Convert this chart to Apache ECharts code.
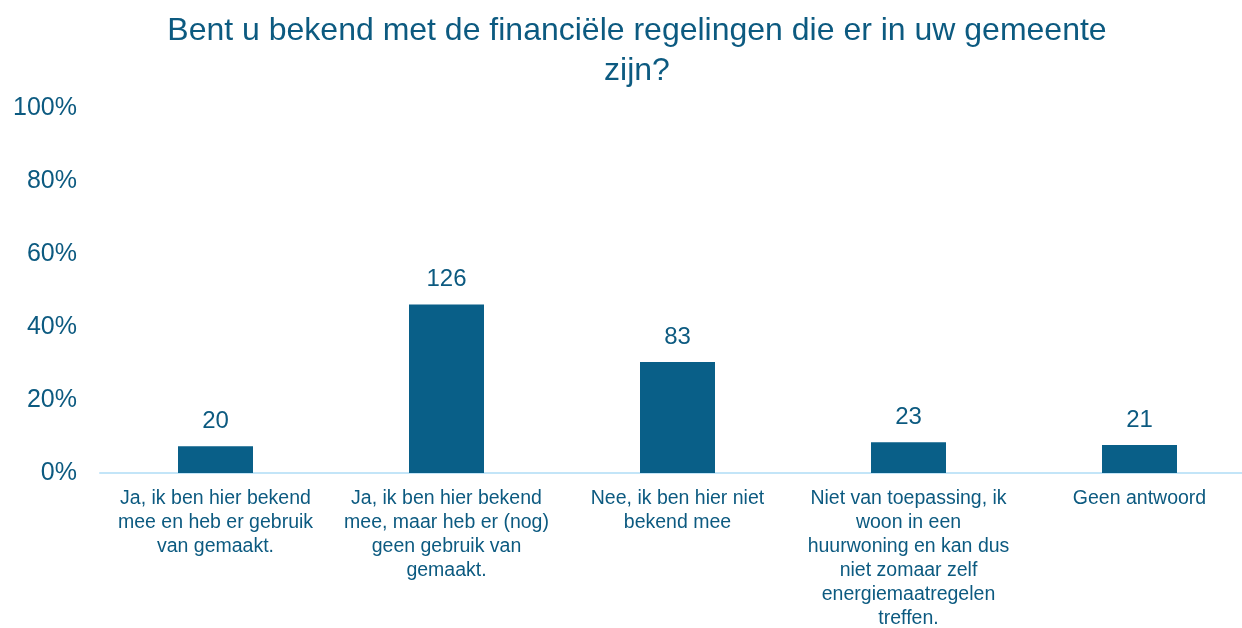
<!DOCTYPE html>
<html>
<head>
<meta charset="utf-8">
<script src="https://cdn.jsdelivr.net/npm/echarts@6/dist/echarts.min.js"></script>
<style>
  html, body { margin: 0; padding: 0; background: #fff; }
  #chart { width: 1242px; height: 628px; }
</style>
</head>
<body>
<div id="chart"></div>
<script>
// antwoordcategorieën (regelafbreking zoals in het origineel)
const categories = [
  'Ja, ik ben hier bekend\nmee en heb er gebruik\nvan gemaakt.',
  'Ja, ik ben hier bekend\nmee, maar heb er (nog)\ngeen gebruik van\ngemaakt.',
  'Nee, ik ben hier niet\nbekend mee',
  'Niet van toepassing, ik\nwoon in een\nhuurwoning en kan dus\nniet zomaar zelf\nenergiemaatregelen\ntreffen.',
  'Geen antwoord'
];
// aantallen respondenten
const counts = [20, 126, 83, 23, 21];
const yTicks = [0, 20, 40, 60, 80, 100];

const total = counts.reduce((a, b) => a + b, 0);
const shares = counts.map(c => c / total * 100);

const textColor = '#0c5a80';
const barColor = '#095f88';

const myChart = echarts.init(document.getElementById('chart'));
myChart.setOption({
  animation: false,
  title: {
    text: 'Bent u bekend met de financiële regelingen die er in uw gemeente\nzijn?',
    left: 632,
    top: 6,
    textAlign: 'center',
    textStyle: {
      color: textColor,
      fontFamily: 'Liberation Sans',
      fontWeight: 'normal',
      fontSize: 32,
      lineHeight: 40
    }
  },
  grid: {
    left: 100,
    top: 108,
    width: 1155,
    height: 365,
    containLabel: false,
    outerBoundsMode: 'none'
  },
  xAxis: {
    type: 'category',
    data: categories,
    axisLine: { lineStyle: { color: '#c3e5f8', width: 2 } },
    axisTick: { show: false },
    axisLabel: {
      interval: 0,
      color: textColor,
      fontFamily: 'Liberation Sans',
      fontSize: 19.5,
      lineHeight: 24,
      margin: 14,
      verticalAlign: 'top'
    }
  },
  yAxis: {
    type: 'value',
    min: yTicks[0],
    max: yTicks[yTicks.length - 1],
    interval: 20,
    splitLine: { show: false },
    axisLine: { show: false },
    axisTick: { show: false },
    axisLabel: {
      color: textColor,
      fontFamily: 'Liberation Sans',
      fontSize: 25,
      margin: 23,
      formatter: v => v + '%'
    }
  },
  series: [{
    type: 'bar',
    data: shares,
    barWidth: 75,
    itemStyle: { color: barColor },
    label: {
      show: true,
      position: 'top',
      distance: 13,
      color: textColor,
      fontFamily: 'Liberation Sans',
      fontSize: 24,
      formatter: p => counts[p.dataIndex]
    }
  }]
});
</script>
</body>
</html>
